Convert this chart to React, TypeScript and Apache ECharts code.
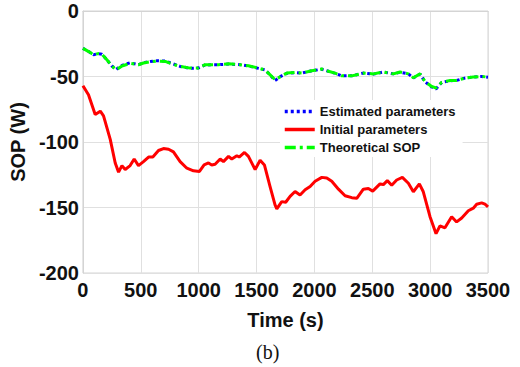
import React, { useEffect, useRef } from "react";
import * as echarts from "echarts";

const xTicks = [0, 500, 1000, 1500, 2000, 2500, 3000, 3500];
const yTicks = [-200, -150, -100, -50, 0];

const initialT = [0, 48, 106, 150, 178, 236, 279, 308, 337, 365, 408, 443, 480, 523, 567, 604, 653, 696, 740, 782, 840, 898, 955, 1007, 1047, 1085, 1113, 1142, 1186, 1214, 1258, 1286, 1330, 1350, 1396, 1430, 1488, 1531, 1568, 1617, 1660, 1675, 1718, 1752, 1790, 1833, 1876, 1920, 1963, 2006, 2064, 2107, 2150, 2208, 2265, 2323, 2366, 2423, 2466, 2504, 2567, 2596, 2630, 2668, 2711, 2760, 2812, 2855, 2907, 2941, 2999, 3051, 3085, 3128, 3186, 3229, 3273, 3330, 3373, 3402, 3445, 3474, 3500];
const initialV = [-57, -64, -79, -76.5, -80, -98, -116, -123, -118, -121, -118, -113, -118, -115, -111.5, -111.5, -106.5, -105, -105.5, -107.5, -115, -120, -122, -122.5, -117.5, -116, -117.5, -117, -113, -115, -111, -113, -110.5, -111.5, -108, -111, -121, -114, -117.5, -134, -148, -151, -145.5, -146, -141.5, -137.8, -140.5, -136.5, -134, -130, -127, -127.5, -130, -136, -141, -142.5, -143, -136, -135.5, -137.5, -132, -132.5, -129.5, -133, -129, -127, -131.5, -138, -132, -138, -157, -170, -164, -165.5, -157, -161, -158, -152.5, -150.5, -147.5, -146.5, -147.5, -149.5];

const theoT = [0, 50, 92, 130, 164, 207, 250, 288, 337, 408, 480, 523, 581, 639, 711, 768, 840, 927, 999, 1056, 1128, 1171, 1258, 1358, 1430, 1517, 1574, 1620, 1660, 1718, 1762, 1833, 1890, 1977, 2064, 2121, 2179, 2236, 2323, 2423, 2510, 2596, 2682, 2740, 2812, 2855, 2913, 2956, 3013, 3051, 3100, 3172, 3229, 3301, 3373, 3446, 3500];
const theoV = [-28.5, -31, -33.4, -32.5, -33, -37.2, -42, -45, -42, -40, -41, -39.7, -38.8, -38.3, -38.5, -40.3, -42.3, -43.6, -43.5, -41, -41, -41, -40.3, -41, -41.8, -43.6, -45, -49, -52.5, -49.5, -47.4, -47, -47.4, -45.6, -44.3, -46, -47.4, -49.5, -49.5, -47.4, -48, -46.6, -48, -46.6, -48, -51, -48, -53.8, -57.6, -58.8, -54.5, -53, -53, -51.2, -50.4, -50, -50.5];

const estT = [0, 50, 92, 130, 164, 207, 250, 288, 337, 408, 480, 523, 581, 639, 711, 768, 840, 927, 999, 1056, 1128, 1171, 1258, 1358, 1430, 1517, 1574, 1620, 1660, 1718, 1762, 1833, 1890, 1977, 2064, 2121, 2179, 2236, 2323, 2423, 2510, 2596, 2682, 2740, 2812, 2855, 2913, 2956, 3013, 3051, 3100, 3172, 3229, 3301, 3373, 3446, 3500];
const estV = [-28.5, -31, -33.4, -32.5, -33, -37.2, -42, -44.5, -41.5, -39.5, -41, -39.5, -38.5, -38, -38.2, -40, -42.3, -43.8, -43.5, -41.2, -41, -41, -40.5, -41, -42, -43.8, -45, -49, -53, -49.5, -47.6, -47, -47.4, -45.6, -44.5, -46, -47.6, -49.5, -49.5, -47.4, -48.2, -46.6, -48, -46.8, -48, -51, -48.2, -54, -58, -59.5, -54.5, -53.2, -53, -51.2, -50.4, -50, -50.5];

const pairs = (t: number[], v: number[]) => t.map((x, i) => [x, v[i]]);

export default function App() {
  const ref = useRef<HTMLDivElement>(null);
  useEffect(() => {
    document.body.style.margin = "0";
    const chart = echarts.init(ref.current!, null, { renderer: "svg" });
    const font = "Arial, 'Liberation Sans', sans-serif";
    chart.setOption({
      animation: false,
      backgroundColor: "#ffffff",
      grid: {
        left: 82,
        right: 32,
        top: 11,
        bottom: 94,
        show: true,
        borderColor: "#d4d4d4",
        borderWidth: 1,
      },
      legend: {
        orient: "vertical",
        left: 280,
        top: 100,
        padding: [5, 7, 3, 3],
        itemGap: 5,
        itemWidth: 30,
        itemHeight: 14,
        backgroundColor: "#ffffff",
        itemStyle: { opacity: 0, color: "transparent", borderWidth: 0 },
        lineStyle: { width: 3.5 },
        textStyle: { fontFamily: font, fontWeight: "bold", fontSize: 13, color: "#111" },
        data: ["Estimated parameters", "Initial parameters", "Theoretical SOP"],
      },
      xAxis: {
        type: "value",
        min: xTicks[0],
        max: xTicks[xTicks.length - 1],
        interval: 500,
        name: "Time (s)",
        nameLocation: "middle",
        nameGap: 37,
        nameTextStyle: { fontFamily: font, fontWeight: "bold", fontSize: 20, color: "#111" },
        axisLine: { show: true, lineStyle: { color: "#d4d4d4" } },
        axisTick: { show: false },
        axisLabel: {
          fontFamily: font,
          fontWeight: "bold",
          fontSize: 20,
          color: "#111",
          margin: 7,
          formatter: (v: number) => String(v),
        },
        splitLine: { show: true, lineStyle: { color: "#e0e0e0", width: 1 } },
      },
      yAxis: {
        type: "value",
        min: yTicks[0],
        max: yTicks[yTicks.length - 1],
        interval: 50,
        name: "SOP (W)",
        nameLocation: "middle",
        nameGap: 52,
        nameTextStyle: { fontFamily: font, fontWeight: "bold", fontSize: 20, color: "#111" },
        axisLine: { show: true, lineStyle: { color: "#d4d4d4" } },
        axisTick: { show: false },
        axisLabel: {
          fontFamily: font,
          fontWeight: "bold",
          fontSize: 20,
          color: "#111",
          margin: 4,
          formatter: (v: number) => String(v),
        },
        splitLine: { show: true, lineStyle: { color: "#e0e0e0", width: 1 } },
      },
      series: [
        {
          name: "Initial parameters",
          type: "line",
          data: pairs(initialT, initialV),
          symbol: "none",
          lineStyle: { color: "#ff0000", width: 3 },
          itemStyle: { color: "#ff0000" },
        },
        {
          name: "Estimated parameters",
          type: "line",
          data: pairs(estT, estV),
          symbol: "none",
          lineStyle: { color: "#0000ff", width: 3, type: [3, 3] },
          itemStyle: { color: "#0000ff" },
        },
        {
          name: "Theoretical SOP",
          type: "line",
          data: pairs(theoT, theoV),
          symbol: "none",
          lineStyle: { color: "#00ff00", width: 3, type: [11, 4, 3, 4] },
          itemStyle: { color: "#00ff00" },
        },
      ],
      graphic: [
        {
          type: "text",
          left: 256,
          top: 342,
          style: { text: "(b)", font: "20px 'Liberation Serif', 'Times New Roman', serif", fill: "#111" },
        },
      ],
    });
    return () => chart.dispose();
  }, []);
  return <div ref={ref} style={{ width: 520, height: 367 }} />;
}
